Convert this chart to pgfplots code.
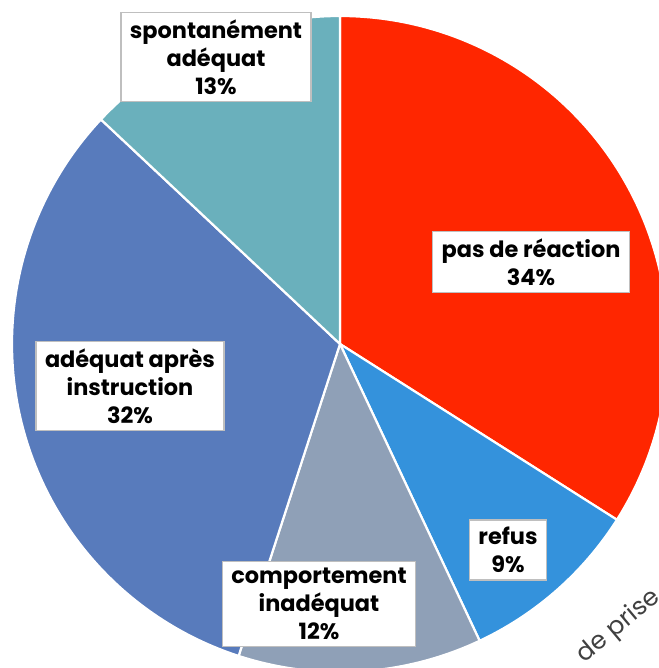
\documentclass[border=0pt]{standalone}
\usepackage{pgfplots}
\usepackage{pgfplotstable}
\pgfplotsset{compat=1.18}
\usepackage{fontspec}
\setmainfont{Poppins}
\definecolor{cRed}{RGB}{255,38,0}
\definecolor{cRefus}{RGB}{52,146,220}
\definecolor{cComp}{RGB}{143,160,183}
\definecolor{cAdeq}{RGB}{88,123,188}
\definecolor{cSpont}{RGB}{106,176,188}
\tikzset{lbl/.style={draw=black!25, line width=1.4bp, fill=white, align=center,
    font=\fontsize{22.5}{28}\selectfont\bfseries, inner xsep=9bp, inner ysep=7bp}}
\pgfplotstableread{
name value color
pas 34 cRed
refus 9 cRefus
comp 12 cComp
adeq 32 cAdeq
spont 13 cSpont
}\piedata
\begin{document}
\begin{tikzpicture}
\begin{axis}[
  width=659bp, height=668bp, scale only axis,
  xmin=0, xmax=659, ymin=0, ymax=668,
  hide axis, clip=true,
]
\def\cum{0}
\pgfplotsforeachungrouped \i in {0,...,4}{%
  \pgfplotstablegetelem{\i}{value}\of\piedata \let\v\pgfplotsretval
  \pgfplotstablegetelem{\i}{color}\of\piedata \let\c\pgfplotsretval
  \pgfmathsetmacro\aStart{90-3.6*\cum}%
  \pgfmathsetmacro\aEnd{90-3.6*(\cum+\v)}%
  \pgfmathsetmacro\cum{\cum+\v}%
  \edef\temp{\noexpand\addplot[fill=\c, draw=white, line width=2.2bp, domain=\aEnd:\aStart, samples=120]
    ({340+328*cos(x)},{324+328*sin(x)}) -- (axis cs:340,324) -- cycle;}%
  \temp
}
\node[lbl] at (axis cs:216,611) {spontanément\\adéquat\\13\%};
\node[lbl] at (axis cs:531,406) {pas de réaction\\34\%};
\node[lbl] at (axis cs:130,282) {adéquat après\\instruction\\32\%};
\node[lbl] at (axis cs:508,118) {refus\\9\%};
\node[lbl] at (axis cs:319,64) {comportement\\inadéquat\\12\%};
\node[anchor=base west, rotate=40, text=black!75, font=\fontsize{25}{28}\selectfont] at (axis cs:582,2) {de prise};
\end{axis}
\pgfresetboundingbox
\useasboundingbox (current axis.south west) rectangle (current axis.north east);
\end{tikzpicture}
\end{document}
